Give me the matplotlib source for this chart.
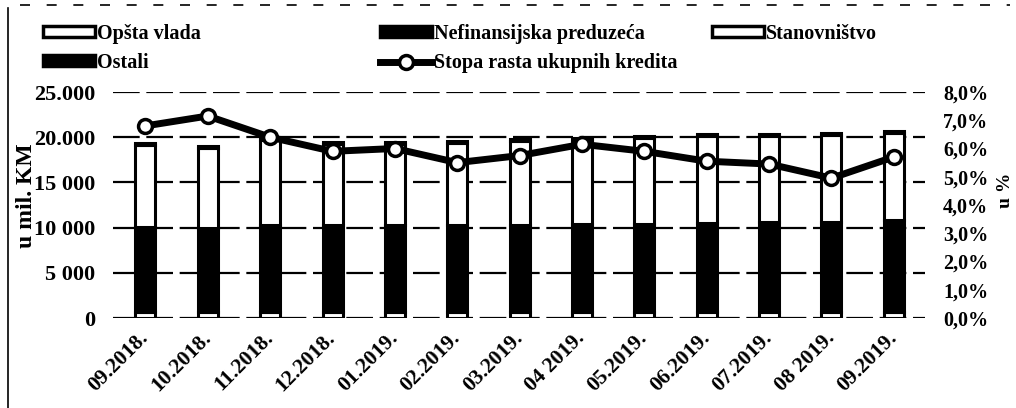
import matplotlib
matplotlib.use("Agg")
import matplotlib.pyplot as plt
import numpy as np
from matplotlib.patches import Patch
from matplotlib.lines import Line2D

months = ["09.2018.", "10.2018.", "11.2018.", "12.2018.", "01.2019.", "02.2019.",
          "03.2019.", "04 2019.", "05.2019.", "06.2019.", "07.2019.", "08 2019.", "09.2019."]
opsta_vlada = [650, 640, 660, 650, 640, 640, 650, 660, 650, 640, 640, 630, 640]
nefinansijska = [9400, 9300, 9600, 9600, 9600, 9650, 9650, 9700, 9800, 9900, 9950, 10000, 10150]
stanovnistvo = [9060, 8840, 9390, 8970, 8980, 9040, 9250, 9290, 9430, 9560, 9510, 9580, 9650]
ostali = [250, 250, 250, 250, 250, 250, 250, 250, 250, 250, 250, 250, 250]
stopa_rasta = [6.8, 7.15, 6.4, 5.9, 6.0, 5.5, 5.75, 6.15, 5.9, 5.55, 5.45, 4.95, 5.7]

left_ticks = [0, 5000, 10000, 15000, 20000, 25000]
left_labels = ["0", "5 000", "10 000", "15 000", "20.000", "25.000"]
right_ticks = [0, 1, 2, 3, 4, 5, 6, 7, 8]
right_labels = ["0,0%", "1,0%", "2,0%", "3,0%", "4,0%", "5,0%", "6,0%", "7,0%", "8,0%"]

plt.rcParams['font.family'] = ['Liberation Serif', 'DejaVu Serif']
plt.rcParams['font.weight'] = 'bold'

W, H = 1016, 408
fig = plt.figure(figsize=(W / 100, H / 100), dpi=100)
ax = fig.add_axes([113 / W, 1 - 318 / H, (925 - 113) / W, (318 - 92) / H])
ax2 = ax.twinx()

x = np.arange(len(months))
bw = 0.32
ekw = dict(edgecolor='black', linewidth=2.2, zorder=3)
ax.bar(x, opsta_vlada, bw, color='white', **ekw)
bottom = np.array(opsta_vlada, dtype=float)
ax.bar(x, nefinansijska, bw, bottom=bottom, color='black', **ekw)
bottom += np.array(nefinansijska)
ax.bar(x, stanovnistvo, bw, bottom=bottom, color='white', **ekw)
bottom += np.array(stanovnistvo)
ax.bar(x, ostali, bw, bottom=bottom, color='black', **ekw)

ax.set_ylim(0, 25000)
ax.set_xlim(-0.52, 12.5)
ax.set_yticks(left_ticks)
ax.set_yticklabels(left_labels, fontsize=16, fontweight='bold')
ax.set_xticks(x)
ax.set_xticklabels(months, rotation=45, ha='right', va='center', rotation_mode='anchor',
                   fontsize=15.5, fontweight='bold')
ax.tick_params(axis='x', length=0, pad=12)
ax.tick_params(axis='y', length=0, pad=13)
ax.grid(axis='y', color='black', linestyle=(0, (12, 3)), linewidth=1.6, zorder=0)
ax.set_axisbelow(True)
for s in ax.spines.values():
    s.set_visible(False)
for s in ax2.spines.values():
    s.set_visible(False)
ax.set_ylabel("u mil. KM", fontsize=17, fontweight='bold', va='center', ha='center')
ax.yaxis.set_label_coords((27 - 113) / 812, (318 - 196) / 226)

ax2.plot(x, stopa_rasta, color='black', linewidth=5, marker='o', markersize=10,
         markerfacecolor='white', markeredgecolor='black', markeredgewidth=2.5, zorder=5)
ax2.set_ylim(0, 8)
ax2.set_yticks(right_ticks)
ax2.set_yticklabels(right_labels, fontsize=14.5, fontweight='bold')
ax2.tick_params(axis='y', length=0, pad=13)
ax2.set_ylabel("u %", fontsize=14, fontweight='bold', rotation=90, va='center', ha='center')
ax2.yaxis.set_label_coords((1005 - 113) / 812, (318 - 190) / 226)

def mkpatch(fc):
    return Patch(facecolor=fc, edgecolor='black', linewidth=2.5)

h_opsta = mkpatch('white')
h_nef = mkpatch('black')
h_stan = mkpatch('white')
h_ost = mkpatch('black')
h_line = Line2D([0], [0], color='black', linewidth=5, marker='o', markersize=10,
                markerfacecolor='white', markeredgecolor='black', markeredgewidth=2.5)

lkw = dict(frameon=False, handlelength=2.6, handleheight=0.45,
           handletextpad=0.1, labelspacing=0.45, borderaxespad=0, borderpad=0,
           prop={'weight': 'bold', 'size': 14.5})
fig.legend([h_opsta, h_ost], ["Opšta vlada", "Ostali"], loc='upper left',
           bbox_to_anchor=(43 / W, 1 - 24 / H), **lkw)
fig.legend([h_nef, h_line], ["Nefinansijska preduzeća", "Stopa rasta ukupnih kredita"],
           loc='upper left', bbox_to_anchor=(380 / W, 1 - 24 / H), **lkw)
fig.legend([h_stan], ["Stanovništvo"], loc='upper left',
           bbox_to_anchor=(712 / W, 1 - 24 / H), **lkw)

# frame border of the original figure
fig.add_artist(Line2D([8 / W, 8 / W], [0, 1 - 8 / H], color='black', linewidth=1.2,
                      transform=fig.transFigure))
fig.add_artist(Line2D([20 / W, 1010 / W], [1 - 5 / H, 1 - 5 / H], color='black',
                      linewidth=1.2, linestyle=(0, (6, 10)), transform=fig.transFigure))

fig.savefig("out.png", dpi=100)
